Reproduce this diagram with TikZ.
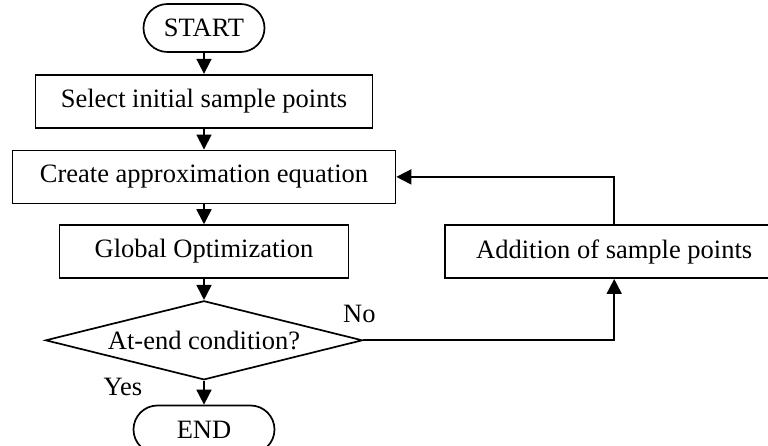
\documentclass[tikz,border=0pt]{standalone}
\usepackage{fontspec}
\setmainfont{Liberation Serif}
\usetikzlibrary{positioning,shapes.geometric,arrows.meta}

\begin{document}
\begin{tikzpicture}[
            x = 1pt, y = 1pt,
            font = \fontsize{26.5}{30}\selectfont,
            block/.style = {
                rectangle,
                draw,
                line width = 1.7pt,
                text centered,
                minimum height = 53pt},
            terminal/.style = {
                rectangle,
                draw,
                line width = 1.7pt,
                rounded corners = 24pt,
                minimum height = 48pt},
            decision/.style = {
                diamond,
                draw,
                line width = 1.7pt,
                aspect = 4,
                inner sep = 0pt,
                minimum width = 317pt,
                minimum height = 79pt},
            arrow/.style = {
                draw,
                line width = 1.7pt,
                -{Triangle[width=15pt, length=15pt]}},
            node distance = 21pt]
        \useasboundingbox (0,0) rectangle (768,-446);
        % Place nodes
        \node [terminal, minimum width=121pt] (start) at (204,-28) {START};
        \node [block, minimum width=337pt, below=of start] (select) {Select initial sample points};
        \node [block, minimum width=383pt, below=of select] (create) {Create approximation equation};
        \node [block, minimum width=289pt, below=20pt of create] (opt) {Global Optimization};
        \node [decision, below=of opt] (cond) {At-end condition?};
        \node [terminal, minimum width=141pt, below=24pt of cond] (stop) {END};
        \node [block, minimum width=338pt, right=95pt of opt] (addpts) {Addition of sample points};
        \node (no) at ([xshift=-4pt, yshift=26pt]cond.east) {No};
        \node (yes) at ([xshift=-81pt, yshift=-6pt]cond.south) {Yes};

        % Draw edges
        \path [arrow] (start) -- (select);
        \path [arrow] (select) -- (create);
        \path [arrow] (create) -- (opt);
        \path [arrow] (opt) -- (cond);
        \path [arrow] (cond) -- (stop);
        \path [arrow] (cond) -| (addpts);
        \path [arrow] (addpts) |- (create);
    \end{tikzpicture}
\end{document}
